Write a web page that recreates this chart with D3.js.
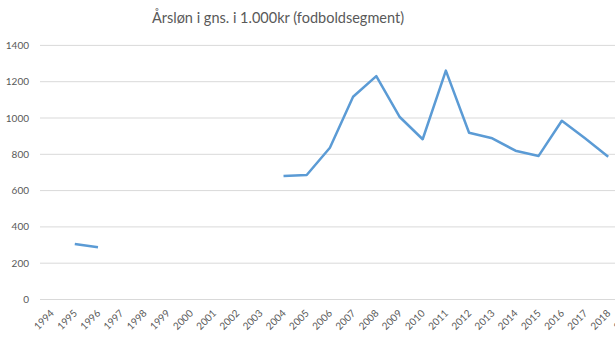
<!DOCTYPE html>
<html>
<head>
<meta charset="utf-8">
<script src="https://cdn.jsdelivr.net/npm/d3@7"></script>
<style>
  body { margin: 0; background: #fff; }
  text { font-family: Lato, "Open Sans", sans-serif; fill: #595959; }
</style>
</head>
<body>
<div id="chart"></div>
<script>
var years = d3.range(1994, 2020).map(String);
var salary = [null, 306, 288, null, null, null, null, null, null, null,
  680, 686, 836, 1117, 1231, 1007, 883, 1261, 919, 888, 820, 791, 985, 888, 787, null];
var yTicks = [0, 200, 400, 600, 800, 1000, 1200, 1400];
var title = "Årsløn i gns. i 1.000kr (fodboldsegment)";

var svgWidth = 615, svgHeight = 342;
var svg = d3.select("#chart").append("svg")
  .attr("width", svgWidth).attr("height", svgHeight);

var x = d3.scaleBand().domain(years).range([40, 643]);
var y = d3.scaleLinear().domain([0, 1400]).range([299.5, 45.4]);

// gridlines
svg.append("g").selectAll("line").data(yTicks).enter().append("line")
  .attr("x1", 40).attr("x2", svgWidth)
  .attr("y1", d => y(d)).attr("y2", d => y(d))
  .attr("stroke", "#d9d9d9").attr("stroke-width", 1);

// y labels
svg.append("g").selectAll("text").data(yTicks).enter().append("text")
  .attr("x", 29).attr("y", d => y(d) + 3.5)
  .attr("text-anchor", "end")
  .style("font-size", "10px")
  .text(d => d);

// x labels, rotated like the category axis
svg.append("g").selectAll("text").data(years).enter().append("text")
  .attr("transform", d => `translate(${x(d) + x.bandwidth() / 2 + 3}, ${314}) rotate(-45)`)
  .attr("text-anchor", "end")
  .style("font-size", "10px")
  .text(d => d);

var line = d3.line()
  .defined(d => d.v != null)
  .x(d => x(d.year) + x.bandwidth() / 2)
  .y(d => y(d.v));

svg.append("path")
  .datum(years.map((yr, i) => ({ year: yr, v: salary[i] })))
  .attr("d", line)
  .attr("fill", "none")
  .attr("stroke", "#5b9bd5")
  .attr("stroke-width", 2.5)
  .attr("stroke-linejoin", "round");

svg.append("text")
  .attr("x", 278).attr("y", 23)
  .attr("text-anchor", "middle")
  .style("font-size", "14.5px")
  .text(title);
</script>
</body>
</html>
